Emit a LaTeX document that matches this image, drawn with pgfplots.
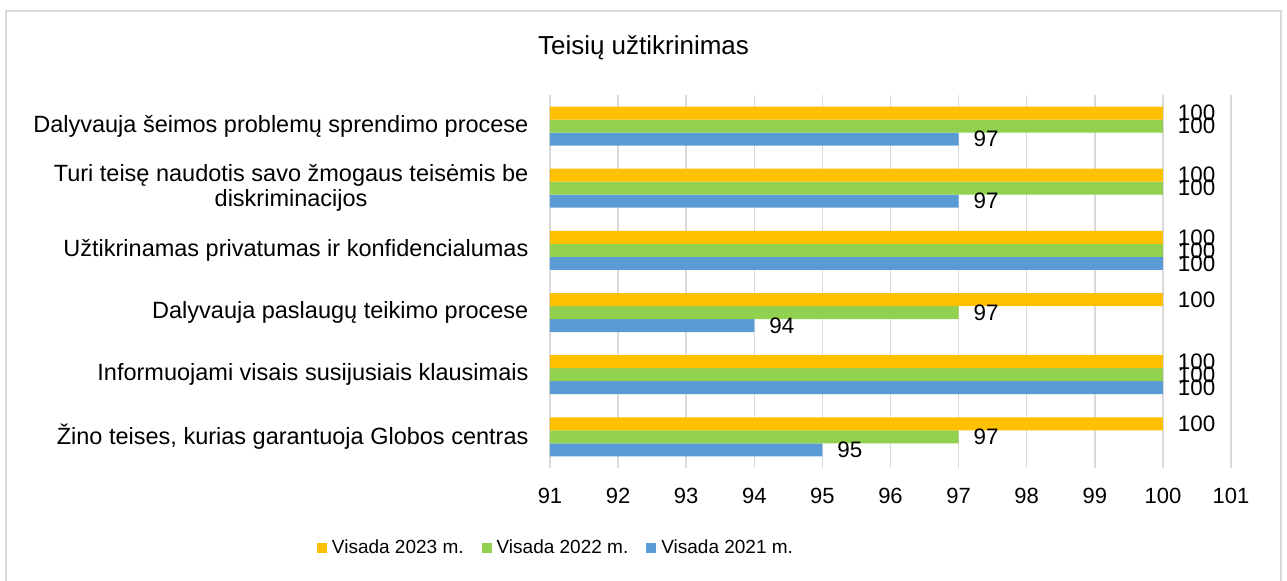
\documentclass[border=0pt]{standalone}
\usepackage{fontspec}
\setmainfont{Liberation Sans}
\usepackage{pgfplots}
\pgfplotsset{compat=1.18}
\definecolor{c23}{HTML}{FFC000}
\definecolor{c22}{HTML}{92D050}
\definecolor{c21}{HTML}{5B9BD5}
\definecolor{gridc}{HTML}{D9D9D9}
\begin{document}
\begin{tikzpicture}[font=\fontsize{11}{13}\selectfont]
\path[use as bounding box] (0,0) rectangle (643.5pt,290.5pt);
\draw[color=gridc, line width=1pt] (3pt,-2pt) -- (3pt,285pt) -- (640.5pt,285pt) -- (640.5pt,-2pt);
\node[font=\fontsize{13}{15}\selectfont] at (321.75pt,266.5pt) {Teisių užtikrinimas};
\begin{axis}[
  at={(275pt,56.5pt)}, anchor=south west,
  width=340.5pt, height=186.5pt, scale only axis,
  xbar=0pt, bar width=6.5pt,
  xmin=91, xmax=101, ymin=-0.5, ymax=5.5,
  xtick={91,...,101}, ytick={0,...,5},
  yticklabels={{Žino teises, kurias garantuoja Globos centras},
               {Informuojami visais susijusiais klausimais},
               {Dalyvauja paslaugų teikimo procese},
               {Užtikrinamas privatumas ir konfidencialumas},
               {Turi teisę naudotis savo žmogaus teisėmis be\\diskriminacijos},
               {Dalyvauja šeimos problemų sprendimo procese}},
  yticklabel style={align=center, xshift=-3pt, font=\fontsize{11.75}{12.5}\selectfont},
  xticklabel style={yshift=-6.5pt, font=\fontsize{11}{13}\selectfont},
  /pgf/number format/assume math mode=true,
  axis line style={draw=none},
  tick style={draw=none},
  xmajorgrids, major grid style={color=gridc, line width=0.75pt},
  nodes near coords,
  every node near coord/.append style={anchor=west, xshift=4pt, font=\fontsize{11.2}{13}\selectfont},
  reverse legend,
  legend style={draw=none, legend columns=-1, at={(axis description cs:0.0103,-0.2145)}, anchor=center,
    /tikz/every even column/.append style={column sep=7pt}, font=\fontsize{9.5}{11}\selectfont,
    /tikz/every odd column/.append style={column sep=0.5pt}},
  legend image code/.code={\fill[#1, draw=none] (0pt,-2.5pt) rectangle (5pt,2.5pt);},
]
\addplot[fill=c21, draw=none] coordinates {(95,0) (100,1) (94,2) (100,3) (97,4) (97,5)};
\addplot[fill=c22, draw=none] coordinates {(97,0) (100,1) (97,2) (100,3) (100,4) (100,5)};
\addplot[fill=c23, draw=none] coordinates {(100,0) (100,1) (100,2) (100,3) (100,4) (100,5)};
\legend{Visada 2021 m., Visada 2022 m., Visada 2023 m.}
\end{axis}
\end{tikzpicture}
\end{document}
